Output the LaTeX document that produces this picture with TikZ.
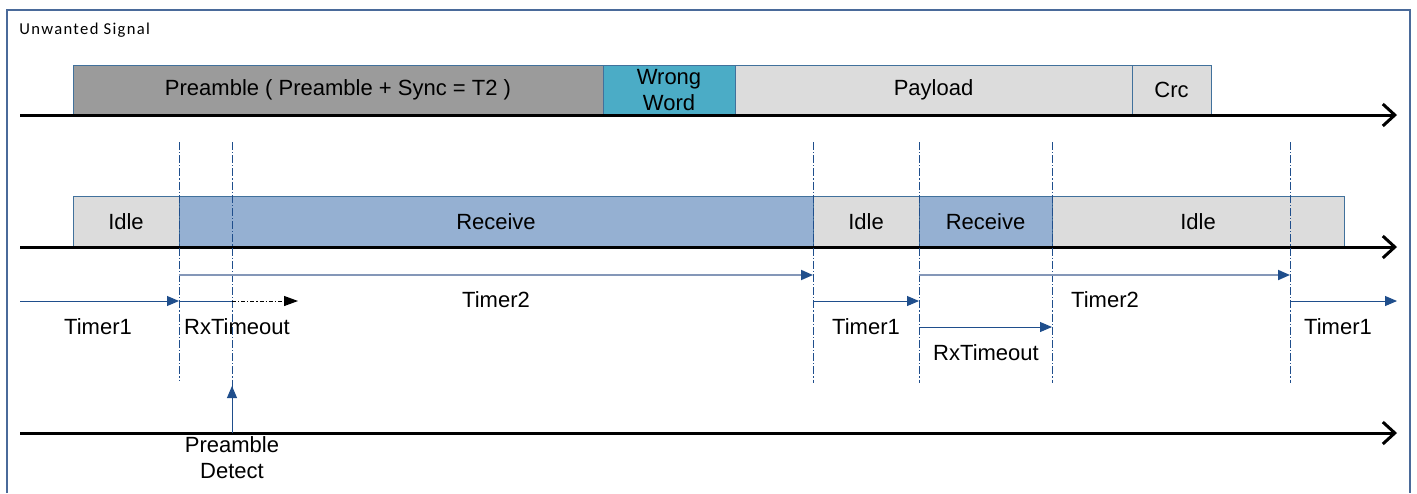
\documentclass[tikz,border=0pt]{standalone}
\usepackage{fontspec}
\setmainfont{Liberation Sans}
\newfontfamily\smallfnt[LetterSpace=8]{Carlito}
\usetikzlibrary{arrows.meta}
\definecolor{frameblue}{HTML}{4A6A9A}
\definecolor{boxedge}{HTML}{41719C}
\definecolor{pregray}{HTML}{9B9B9B}
\definecolor{wrongcyan}{HTML}{4BACC6}
\definecolor{lightgray}{HTML}{DCDCDC}
\definecolor{recblue}{HTML}{95B0D2}
\definecolor{darkblue}{HTML}{1F4E8C}
\definecolor{paleblue}{HTML}{8497B8}
\tikzset{
  box/.style={draw=boxedge, line width=0.5pt, inner sep=0pt, font=\fontsize{11}{13}\selectfont, align=center},
  axis/.style={line width=1.5pt, black, -{Straight Barb[length=6pt,width=11pt,line width=1.5pt]}},
  vline/.style={darkblue, line width=0.5pt, dash pattern=on 4pt off 1pt on 0.6pt off 1pt},
  tarrow/.style={darkblue, line width=0.5pt, -{Triangle[length=6pt,width=5pt]}},
  tlong/.style={paleblue, line width=0.9pt, -{Triangle[length=6pt,width=5pt,color=darkblue]}},
  lbl/.style={font=\fontsize{11}{13}\selectfont, inner sep=0pt, align=center}
}
\newcommand{\seg}[7]{%
  \node[box, fill=#6, minimum width={(#3-#2)*0.5pt}, minimum height={(#5-#4)*0.5pt}]
    (#1) at ({(#2+#3)/2},{(#4+#5)/2}) {#7};}
\begin{document}
\begin{tikzpicture}[x=0.5pt,y=-0.5pt]
\useasboundingbox (0,0) rectangle (1417,493);
% frame
\draw[frameblue, line width=0.8pt] (7,493) -- (7,10) -- (1410,10) -- (1410,493);
\node[anchor=west, inner sep=0pt, font=\smallfnt\fontsize{8.3}{10}\selectfont] (title) at (19,30) {Unwanted Signal};

% top row
\seg{pre}{73}{603}{65}{115}{pregray}{Preamble ( Preamble + Sync = T2 )}
\seg{wrong}{603}{735}{65}{115}{wrongcyan}{Wrong\\Word}
\seg{pay}{735}{1132}{65}{115}{lightgray}{Payload}
\seg{crc}{1132}{1211}{65}{115}{lightgray}{Crc}
\coordinate (a1s) at (20,115);
\coordinate (a1e) at (1397,115);
\draw[axis] (a1s) -- (a1e);

% second row
\seg{idle1}{73}{179}{196}{247}{lightgray}{Idle}
\seg{rec1}{179}{813}{196}{247}{recblue}{Receive}
\seg{idle2}{813}{919}{196}{247}{lightgray}{Idle}
\seg{rec2}{919}{1052}{196}{247}{recblue}{Receive}
\seg{idle3}{1052}{1344}{196}{247}{lightgray}{Idle}
\coordinate (a2s) at (20,247);
\coordinate (a2e) at (1397,247);
\draw[axis] (a2s) -- (a2e);

% third axis
\coordinate (a3s) at (20,433);
\coordinate (a3e) at (1397,433);
\draw[axis] (a3s) -- (a3e);

% vertical markers
\foreach \n/\x/\yb in {v1/179/380, v2/232/392, v3/813/383, v4/919/383, v5/1052/383, v6/1290/383}{
  \coordinate (\n t) at (\x,142);
  \coordinate (\n b) at (\x,\yb);
  \draw[vline] (\n t) -- (\n b);
}

% Timer2 long arrows
\coordinate (t2as) at (179,275); \coordinate (t2ae) at (813,275);
\coordinate (t2bs) at (919,275); \coordinate (t2be) at (1290,275);
\draw[tlong] (t2as) -- (t2ae);
\draw[tlong] (t2bs) -- (t2be);

% Timer1 arrows
\coordinate (t1as) at (20,301); \coordinate (t1ae) at (179,301);
\coordinate (t1bs) at (813,301); \coordinate (t1be) at (919,301);
\coordinate (t1cs) at (1290,301); \coordinate (t1ce) at (1397,301);
\draw[tarrow] (t1as) -- (t1ae);
\draw[tarrow] (t1bs) -- (t1be);
\draw[tarrow] (t1cs) -- (t1ce);

% RxTimeout first (interrupted)
\coordinate (rx1s) at (179,301); \coordinate (rx1m) at (232,301); \coordinate (rx1e) at (298,301);
\draw[darkblue, line width=0.5pt] (rx1s) -- (rx1m);
\draw[black, line width=0.5pt, dash pattern=on 2pt off 1pt on 0.6pt off 1pt, -{Triangle[length=7pt,width=5pt]}] (rx1m) -- (rx1e);
% RxTimeout second
\coordinate (rx2s) at (919,327); \coordinate (rx2e) at (1052,327);
\draw[tarrow] (rx2s) -- (rx2e);

% Preamble detect arrow
\coordinate (pdb) at (232,433); \coordinate (pdt) at (232,386);
\draw[tarrow] (pdb) -- (pdt);

% labels
\node[lbl] (l1) at (98,327) {Timer1};
\node[lbl] (l2) at (237,327) {RxTimeout};
\node[lbl] (l3) at (496,300) {Timer2};
\node[lbl] (l4) at (866,327) {Timer1};
\node[lbl] (l5) at (986,353) {RxTimeout};
\node[lbl] (l6) at (1105,300) {Timer2};
\node[lbl] (l7) at (1338,327) {Timer1};
\node[lbl] (pd) at (232,458) {Preamble\\Detect};
\end{tikzpicture}
\end{document}
